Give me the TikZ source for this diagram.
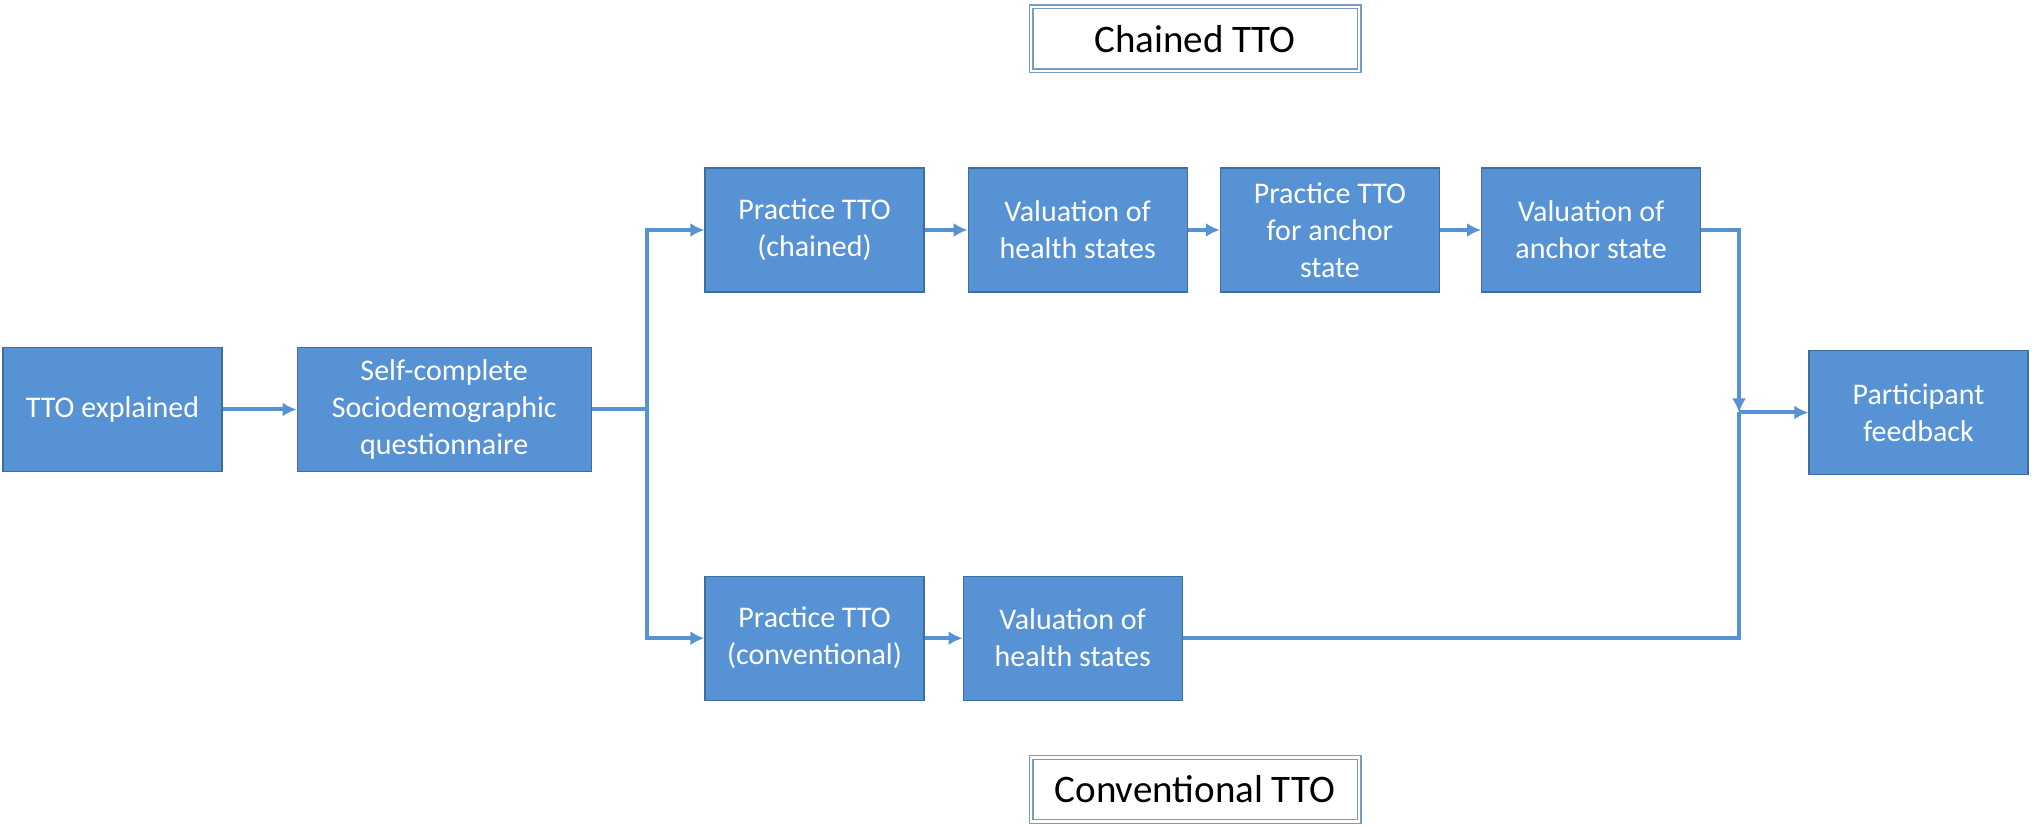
\documentclass[tikz,border=0pt]{standalone}
\usepackage{fontspec}
\setmainfont{Carlito}
\usepackage{tikz}
\usetikzlibrary{arrows,arrows.meta,positioning}
\definecolor{boxblue}{RGB}{86, 146, 212}
\definecolor{boxline}{RGB}{62, 110, 158}
\definecolor{titleline}{RGB}{120, 155, 195}
\tikzstyle{stage} = [rectangle, draw=boxline, line width=0.6pt, fill=boxblue, text=white, align=center, font=\fontsize{15}{18.5}\selectfont, minimum width=109.5pt, minimum height=62pt, inner sep=2pt]
\tikzstyle{title} = [rectangle, draw=titleline, double=white, double distance=1.3pt, line width=0.6pt, text=black, font=\fontsize{19.5}{22}\selectfont, minimum width=164pt, minimum height=32pt]
\tikzstyle{tedge}  = [draw, line width=2pt, color=boxblue, >={Latex[length=7pt,width=7pt]}, ->]
\tikzstyle{tline}  = [draw, line width=2pt, color=boxblue]

\begin{document}
\begin{tikzpicture}[x=1pt,y=1pt]
\useasboundingbox (0,0) rectangle (1016,414);

% common start ==============================
\node[stage] (explained) at (56.25,209.25) {TTO explained};
\node[stage, minimum width=147pt, right=37pt of explained] (selfq) {Self-complete\\Sociodemographic\\questionnaire};

% chained TTO branch =========================
\node[stage] (chainpractice) at (407.25,299) {Practice TTO\\(chained)};
\node[stage, right=21.5pt of chainpractice] (chainval) {Valuation of\\health states};
\node[stage, right=16pt of chainval] (anchorpractice) {Practice TTO\\for anchor\\state};
\node[stage, right=20.5pt of anchorpractice] (anchorval) {Valuation of\\anchor state};

% conventional TTO branch ====================
\node[stage, below=141.5pt of chainpractice] (convpractice) {Practice TTO\\(conventional)};
\node[stage, right=19pt of convpractice] (convval) {Valuation of\\health states};

% end
\node[stage] (feedback) at (959.25,207.75) {Participant\\feedback};

% titles
\node[title] (chainedtitle) at (597.5,394.5) {Chained TTO};
\node[title] (convtitle) at (597.5,19.25) {Conventional TTO};

\coordinate (split) at (323.5,209.25);
\coordinate (join) at (869.5,207.75);

% edges
\path[tedge] (explained) -- (selfq);
\path[tline] (selfq.east) -- (split);
\path[tedge] (split) |- (chainpractice.west);
\path[tedge] (split) |- (convpractice.west);
\path[tedge] (chainpractice) -- (chainval);
\path[tedge] (chainval) -- (anchorpractice);
\path[tedge] (anchorpractice) -- (anchorval);
\path[tedge] (convpractice) -- (convval);
\path[tedge] (anchorval.east) -| (join);
\path[tline] (convval.east) -| (join);
\path[tedge] (join) -- (feedback);

\end{tikzpicture}
\end{document}
